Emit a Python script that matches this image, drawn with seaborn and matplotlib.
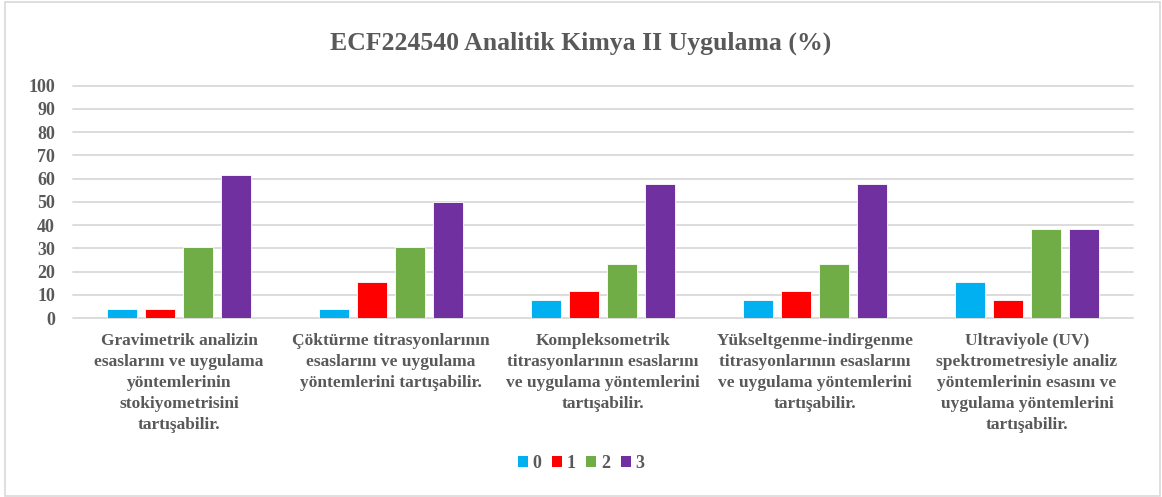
import matplotlib
matplotlib.use("Agg")
import matplotlib.pyplot as plt
from matplotlib.patches import Patch, Rectangle
import seaborn as sns
import pandas as pd

# outcomes (x categories)
categories = [
    "Gravimetrik analizin\nesaslarını ve uygulama\nyöntemlerinin\nstokiyometrisini\ntartışabilir.",
    "Çöktürme titrasyonlarının\nesaslarını ve uygulama\nyöntemlerini tartışabilir.",
    "Kompleksometrik\ntitrasyonlarının esaslarını\nve uygulama yöntemlerini\ntartışabilir.",
    "Yükseltgenme-indirgenme\ntitrasyonlarının esaslarını\nve uygulama yöntemlerini\ntartışabilir.",
    "Ultraviyole (UV)\nspektrometresiyle analiz\nyöntemlerinin esasını ve\nuygulama yöntemlerini\ntartışabilir.",
]
levels = ["0", "1", "2", "3"]
vals_0 = [3.8, 3.8, 7.7, 7.7, 15.4]
vals_1 = [3.8, 15.4, 11.5, 11.5, 7.7]
vals_2 = [30.8, 30.8, 23.1, 23.1, 38.5]
vals_3 = [61.5, 50.0, 57.7, 57.7, 38.5]
yticks = list(range(0, 101, 10))

colors = ["#00B0F0", "#FF0000", "#70AD47", "#7030A0"]
text_col = "#595959"

rows = []
for lvl, vals in zip(levels, [vals_0, vals_1, vals_2, vals_3]):
    for c, v in zip(categories, vals):
        rows.append({"cat": c, "level": lvl, "pct": v})
df = pd.DataFrame(rows)

sns.set_style("white")
plt.rcParams['font.family'] = ['Liberation Serif', 'DejaVu Serif']
plt.rcParams['font.weight'] = 'bold'

fig = plt.figure(figsize=(11.62, 4.97), dpi=100)
ax = fig.add_axes([0.0628, 0.360, 0.9122, 0.4676])

sns.barplot(data=df, x="cat", y="pct", hue="level", order=categories,
            hue_order=levels, palette=colors, saturation=1, width=0.72, gap=0.21,
            edgecolor="white", linewidth=0.6, ax=ax, legend=False)

ax.set_ylim(0, 100)
ax.set_xlim(-0.5, len(categories) - 0.5)
ax.set_yticks(yticks)
ax.set_yticklabels([str(t) for t in yticks])
ax.yaxis.grid(True, color="#d9d9d9", linewidth=1.3)
ax.set_axisbelow(True)
for gl in ax.get_ygridlines():
    gl.set_clip_on(False)
for s in ax.spines.values():
    s.set_visible(False)
ax.set_xlabel("")
ax.set_ylabel("")
ax.tick_params(axis="y", length=0, pad=13, labelsize=13, labelcolor=text_col)
ax.tick_params(axis="x", length=0, pad=11, labelsize=12.5, labelcolor=text_col)
for lab in ax.get_xticklabels():
    lab.set_linespacing(1.4)
    lab.set_fontweight("bold")
for lab in ax.get_yticklabels():
    lab.set_fontweight("bold")

fig.text(0.5, 0.913, "ECF224540 Analitik Kimya II Uygulama (%)", ha="center", va="center",
         fontsize=18.5, fontweight="bold", color=text_col)

handles = [Patch(facecolor=c, edgecolor="none") for c in colors]
fig.legend(handles, levels, loc="center", bbox_to_anchor=(0.5, 0.068), ncol=4,
           frameon=False, handlelength=0.55, handleheight=0.55, handletextpad=0.25,
           columnspacing=0.6, prop={"size": 13, "weight": "bold"}, labelcolor=text_col)

fig.patches.append(Rectangle((5 / 1162, 1 / 497), 1155 / 1162, 494 / 497,
                             transform=fig.transFigure, fill=False,
                             edgecolor="#d9d9d9", linewidth=1.2))

fig.savefig("out.png", dpi=100, facecolor="white")
